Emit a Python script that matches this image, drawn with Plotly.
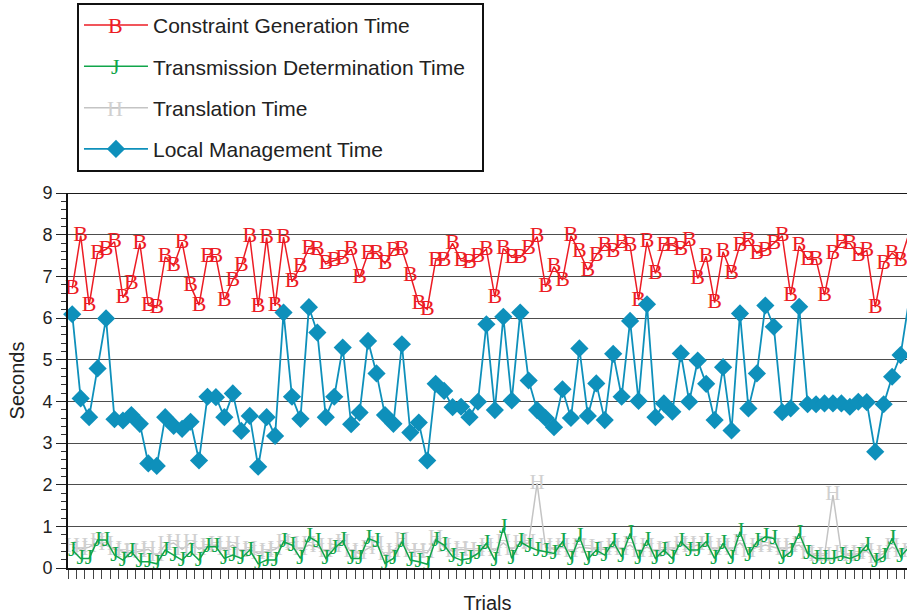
import plotly.graph_objects as go

trials = list(range(1, 101))

constraint_generation = [
    6.71, 7.98, 6.31, 7.55, 7.65, 7.83, 6.49, 6.83, 7.79, 6.31,
    6.25, 7.47, 7.25, 7.82, 6.77, 6.31, 7.47, 7.47, 6.43, 6.91,
    7.25, 7.95, 6.27, 7.93, 6.29, 7.94, 6.87, 7.23, 7.67, 7.65,
    7.30, 7.38, 7.43, 7.65, 6.97, 7.55, 7.56, 7.31, 7.63, 7.65,
    7.03, 6.35, 6.21, 7.39, 7.39, 7.79, 7.38, 7.34, 7.48, 7.65,
    6.50, 7.67, 7.46, 7.46, 7.67, 7.95, 6.75, 7.23, 6.91, 7.97,
    7.59, 7.15, 7.51, 7.75, 7.59, 7.81, 7.73, 6.43, 7.83, 7.07,
    7.75, 7.75, 7.65, 7.85, 6.95, 7.48, 6.37, 7.59, 7.07, 7.75,
    7.87, 7.56, 7.62, 7.79, 7.97, 6.55, 7.73, 7.41, 7.41, 6.55,
    7.55, 7.81, 7.79, 7.51, 7.62, 6.26, 7.31, 7.56, 7.39, 8.03,
]

transmission_determination = [
    0.43, 0.23, 0.23, 0.67, 0.67, 0.31, 0.19, 0.39, 0.15, 0.15,
    0.10, 0.43, 0.31, 0.19, 0.39, 0.19, 0.51, 0.51, 0.23, 0.31,
    0.23, 0.43, 0.10, 0.19, 0.19, 0.63, 0.55, 0.23, 0.75, 0.63,
    0.23, 0.47, 0.65, 0.23, 0.23, 0.71, 0.63, 0.11, 0.23, 0.63,
    0.19, 0.15, 0.09, 0.67, 0.55, 0.27, 0.19, 0.23, 0.35, 0.59,
    0.19, 0.97, 0.23, 0.63, 0.51, 0.43, 0.39, 0.35, 0.63, 0.21,
    0.75, 0.21, 0.43, 0.31, 0.63, 0.27, 0.83, 0.23, 0.67, 0.23,
    0.43, 0.23, 0.63, 0.43, 0.43, 0.63, 0.23, 0.59, 0.23, 0.87,
    0.31, 0.63, 0.75, 0.71, 0.23, 0.39, 0.83, 0.35, 0.23, 0.23,
    0.23, 0.29, 0.23, 0.31, 0.55, 0.15, 0.27, 0.71, 0.27, 0.50,
]

translation = [
    0.50, 0.45, 0.50, 0.62, 0.55, 0.45, 0.40, 0.36, 0.40, 0.45,
    0.30, 0.55, 0.60, 0.45, 0.60, 0.45, 0.52, 0.55, 0.45, 0.55,
    0.40, 0.45, 0.35, 0.40, 0.45, 0.60, 0.55, 0.45, 0.55, 0.50,
    0.40, 0.50, 0.60, 0.40, 0.35, 0.47, 0.55, 0.31, 0.40, 0.65,
    0.38, 0.40, 0.36, 0.70, 0.50, 0.40, 0.45, 0.42, 0.42, 0.50,
    0.42, 0.60, 0.45, 0.58, 0.60, 2.03, 0.50, 0.45, 0.50, 0.40,
    0.50, 0.48, 0.45, 0.45, 0.50, 0.45, 0.55, 0.40, 0.50, 0.40,
    0.45, 0.45, 0.55, 0.50, 0.55, 0.55, 0.45, 0.50, 0.45, 0.60,
    0.40, 0.50, 0.55, 0.50, 0.45, 0.50, 0.55, 0.35, 0.30, 0.30,
    1.75, 0.35, 0.30, 0.35, 0.40, 0.25, 0.35, 0.50, 0.40, 0.55,
]

local_management = [
    6.09, 4.07, 3.62, 4.79, 5.99, 3.57, 3.54, 3.67, 3.46, 2.51,
    2.45, 3.62, 3.41, 3.34, 3.51, 2.58, 4.11, 4.10, 3.62, 4.19,
    3.29, 3.65, 2.43, 3.62, 3.17, 6.13, 4.11, 3.58, 6.26, 5.65,
    3.62, 4.11, 5.29, 3.45, 3.73, 5.45, 4.67, 3.67, 3.46, 5.37,
    3.25, 3.49, 2.58, 4.42, 4.25, 3.86, 3.87, 3.62, 3.99, 5.85,
    3.79, 6.03, 4.02, 6.13, 4.50, 3.79, 3.60, 3.38, 4.29, 3.60,
    5.27, 3.65, 4.43, 3.55, 5.14, 4.11, 5.93, 4.01, 6.33, 3.62,
    3.95, 3.75, 5.15, 3.99, 4.98, 4.42, 3.55, 4.82, 3.30, 6.11,
    3.83, 4.67, 6.30, 5.79, 3.74, 3.83, 6.27, 3.93, 3.93, 3.95,
    3.95, 3.95, 3.87, 3.99, 3.98, 2.79, 3.93, 4.59, 5.11, 6.42,
]

y_ticks = [0, 1, 2, 3, 4, 5, 6, 7, 8, 9]

RED = "#ec1c24"
GREEN = "#10a54a"
GRAY_LINE = "#c4c4c4"
GRAY_TEXT = "#d0d0d0"
BLUE = "#0e90bb"
SERIF = "Liberation Serif, Times New Roman, serif"
SANS = "Liberation Sans, Arial, Helvetica, sans-serif"
NB = "\u00a0"

fig = go.Figure()

fig.add_trace(go.Scatter(
    x=trials, y=translation, name="Translation Time", legendrank=3,
    mode="lines+text", text=["H"] * len(trials), textposition="middle center",
    textfont=dict(family=SERIF, size=21, color=GRAY_TEXT),
    line=dict(color=GRAY_LINE, width=1.5), cliponaxis=False,
))
fig.add_trace(go.Scatter(
    x=trials, y=transmission_determination,
    name="Transmission Determination Time" + NB * 2, legendrank=2,
    mode="lines+text", text=["J"] * len(trials), textposition="middle center",
    textfont=dict(family=SERIF, size=22, color=GREEN),
    line=dict(color=GREEN, width=1.5), cliponaxis=False,
))
fig.add_trace(go.Scatter(
    x=trials, y=constraint_generation, name="Constraint Generation Time", legendrank=1,
    mode="lines+text", text=["B"] * len(trials), textposition="middle center",
    textfont=dict(family=SERIF, size=22, color=RED),
    line=dict(color=RED, width=1.5), cliponaxis=False,
))
fig.add_trace(go.Scatter(
    x=trials, y=local_management, name="Local Management Time", legendrank=4,
    mode="lines+markers",
    marker=dict(symbol="diamond", size=14, color=BLUE, line=dict(width=0)),
    line=dict(color=BLUE, width=1.8), cliponaxis=False,
))

fig.add_shape(type="line", xref="paper", yref="y", x0=0, x1=1, y0=9, y1=9,
              line=dict(color="#1a1a1a", width=2))

# glyph samples drawn on the legend lines (the legend itself shows only the line)
PX_W, PX_H, LEFT, TOP = 839.0, 375.0, 68.0, 193.0
legend_glyphs = [("B", RED, 25), ("J", GREEN, 67), ("H", GRAY_TEXT, 108)]
for glyph, col, py in legend_glyphs:
    fig.add_annotation(
        x=(115 - LEFT) / PX_W, y=1 + (TOP - py) / PX_H, xref="paper", yref="paper",
        text=glyph, showarrow=False, xanchor="center", yanchor="middle",
        font=dict(family=SERIF, size=22, color=col),
    )

fig.update_layout(
    width=907, height=615,
    margin=dict(l=68, r=0, t=193, b=47),
    paper_bgcolor="white", plot_bgcolor="white",
    font=dict(family=SANS, color="#222222"),
    showlegend=True,
    legend=dict(
        x=0.0107, y=1.507, xanchor="left", yanchor="top",
        bgcolor="white", bordercolor="#111111", borderwidth=2,
        font=dict(family=SANS, size=21, color="#222222"),
        tracegroupgap=11, itemwidth=64,
    ),
    xaxis=dict(
        range=[0.5, 99.76], showgrid=False, zeroline=False,
        showline=True, linecolor="#111111", linewidth=2,
        ticks="outside", tick0=0.5, dtick=1, ticklen=9, tickwidth=1, tickcolor="#444444",
        showticklabels=False,
        title=dict(text="Trials", font=dict(size=20, color="#222222"), standoff=18),
    ),
    yaxis=dict(
        range=[0, 9], tickmode="array", tickvals=y_ticks,
        showgrid=True, gridcolor="#4d4d4d", gridwidth=1.3, zeroline=False,
        showline=True, linecolor="#111111", linewidth=2,
        ticks="outside", ticklen=10, tickwidth=1.3, tickcolor="#222222",
        tickfont=dict(size=18, color="#222222"),
        minor=dict(dtick=0.2, tick0=0, ticks="outside", ticklen=5, tickwidth=1,
                   tickcolor="#333333", showgrid=False),
        title=dict(text="Seconds", font=dict(size=20, color="#222222"), standoff=12),
    ),
)

for i, tr in enumerate(fig.data):
    tr.legendgroup = f"g{i}"

fig.write_html("out.html")
